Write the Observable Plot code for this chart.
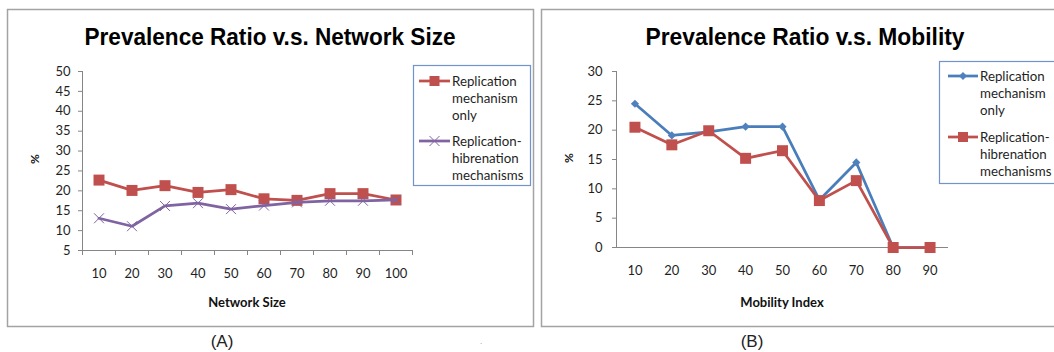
<!DOCTYPE html>
<html><head><meta charset="utf-8">
<script src="https://cdn.jsdelivr.net/npm/d3@7"></script>
<script src="https://cdn.jsdelivr.net/npm/@observablehq/plot@0.6"></script>
<style>
body{margin:0;background:#fff;}
#wrap{position:relative;width:1054px;height:352px;overflow:hidden;background:#fff;}
#wrap svg{position:absolute;left:0;top:0;}
</style></head><body><div id="wrap"></div>
<script>
// ---- data ----
const sizeCategories = [10, 20, 30, 40, 50, 60, 70, 80, 90, 100];
const sizeReplicationOnly = [22.7, 20.1, 21.3, 19.6, 20.3, 18.0, 17.6, 19.3, 19.3, 17.7];
const sizeReplicationHibernation = [13.1, 11.1, 16.2, 16.9, 15.4, 16.3, 17.1, 17.5, 17.5, 17.7];
const sizeYTicks = [5, 10, 15, 20, 25, 30, 35, 40, 45, 50];

const mobilityCategories = [10, 20, 30, 40, 50, 60, 70, 80, 90];
const mobilityReplicationOnly = [24.5, 19.1, 19.7, 20.6, 20.6, 8.1, 14.5, 0, 0];
const mobilityReplicationHibernation = [20.5, 17.5, 19.9, 15.2, 16.5, 8.0, 11.4, 0, 0];
const mobilityYTicks = [0, 5, 10, 15, 20, 25, 30];

const titles = ["Prevalence Ratio v.s. Network Size", "Prevalence Ratio v.s. Mobility"];
const xLabels = ["Network Size", "Mobility Index"];
const yLabel = "%";
const captions = ["(A)", "(B)"];
const legendOnly = ["Replication", "mechanism", "only"];
const legendHib = ["Replication-", "hibrenation", "mechanisms"];

const RED = "#C0504D", PURPLE = "#8064A2", BLUE = "#4A7EBB", BLUEM = "#4F81BD";
const AXIS = "#868686", TXT = "#1f1f1f";

const wrap = document.getElementById("wrap");
const W = 1054, H = 352;

// ---- background layer: panel borders ----
const bg = d3.create("svg").attr("width", W).attr("height", H);
bg.append("rect").attr("x", 7.5).attr("y", 9.5).attr("width", 526).attr("height", 317)
  .attr("fill", "#fff").attr("stroke", "#a3a3a3").attr("stroke-width", 1.5);
bg.append("rect").attr("x", 541.5).attr("y", 9.5).attr("width", 530).attr("height", 317)
  .attr("fill", "#fff").attr("stroke", "#a3a3a3").attr("stroke-width", 1.5);
wrap.appendChild(bg.node());

const style = {background: "transparent", fontFamily: "Lato, 'DejaVu Sans', sans-serif", fontSize: "13px", overflow: "visible"};

// ---- left chart ----
const sizeData = sizeCategories.map((c, i) => ({c, a: sizeReplicationOnly[i], b: sizeReplicationHibernation[i]}));
const sizeBounds = [sizeCategories[0] - 5, ...sizeCategories.map(c => c + 5)];
const left = Plot.plot({
  width: W, height: H,
  marginLeft: 82, marginRight: W - 412, marginTop: 71, marginBottom: H - 250,
  style,
  x: {type: "linear", domain: [sizeBounds[0], sizeBounds[sizeBounds.length - 1]]},
  y: {domain: [sizeYTicks[0], sizeYTicks[sizeYTicks.length - 1]]},
  marks: [
    Plot.axisY({ticks: sizeYTicks, tickSize: 4, tickPadding: 8, label: null, stroke: AXIS, fill: TXT}),
    Plot.axisX({ticks: sizeBounds, tickSize: 5, tickFormat: () => "", label: null, stroke: AXIS}),
    Plot.axisX({ticks: sizeCategories, tickSize: 0, tickPadding: 18, label: null, fill: TXT}),
    Plot.ruleX([sizeBounds[0]], {stroke: AXIS}),
    Plot.ruleY([sizeYTicks[0]], {stroke: AXIS}),
    Plot.lineY(sizeData, {x: "c", y: "a", stroke: RED, strokeWidth: 2.75}),
    Plot.dot(sizeData, {x: "c", y: "a", symbol: "square", r: 6.2, fill: RED}),
    Plot.lineY(sizeData, {x: "c", y: "b", stroke: PURPLE, strokeWidth: 2.75}),
    Plot.dot(sizeData, {x: "c", y: "b", symbol: "times", r: 4.6, stroke: PURPLE, strokeWidth: 1})
  ]
});
wrap.appendChild(left);

// ---- right chart ----
const mobData = mobilityCategories.map((c, i) => ({c, a: mobilityReplicationOnly[i], b: mobilityReplicationHibernation[i]}));
const right = Plot.plot({
  width: W, height: H,
  marginLeft: 616, marginRight: W - 948, marginTop: 71, marginBottom: H - 247,
  style,
  x: {type: "linear", domain: [mobilityCategories[0] - 5, mobilityCategories[mobilityCategories.length - 1] + 5]},
  y: {domain: [mobilityYTicks[0], mobilityYTicks[mobilityYTicks.length - 1]]},
  marks: [
    Plot.axisY({ticks: mobilityYTicks, tickSize: 4, tickPadding: 10, label: null, stroke: AXIS, fill: TXT}),
    Plot.axisX({ticks: mobilityCategories, tickSize: 0, tickPadding: 18, label: null, fill: TXT}),
    Plot.ruleX([mobilityCategories[0] - 5], {stroke: AXIS}),
    Plot.ruleY([mobilityYTicks[0]], {stroke: AXIS}),
    Plot.lineY(mobData, {x: "c", y: "a", stroke: BLUE, strokeWidth: 2.75}),
    Plot.dot(mobData, {x: "c", y: "a", symbol: "diamond2", r: 3.7, fill: BLUEM}),
    Plot.lineY(mobData, {x: "c", y: "b", stroke: RED, strokeWidth: 2.75}),
    Plot.dot(mobData, {x: "c", y: "b", symbol: "square", r: 6.2, fill: RED})
  ]
});
wrap.appendChild(right);

// ---- overlay: titles, axis labels, legends, captions ----
const ov = d3.create("svg").attr("width", W).attr("height", H);
const T = (x, y, s, o = {}) => ov.append("text").attr("x", x).attr("y", y).text(s)
  .attr("text-anchor", o.anchor || "middle")
  .attr("font-family", o.family || "Lato, 'DejaVu Sans', sans-serif")
  .attr("font-size", o.size || 13)
  .attr("font-weight", o.weight || "normal")
  .attr("fill", o.fill || TXT);

const t1 = T(270, 45, titles[0], {family: "'Liberation Sans', Arial, sans-serif", size: 23.5, weight: "bold", fill: "#000"});
t1.attr("textLength", 371).attr("lengthAdjust", "spacingAndGlyphs");
const t2 = T(805, 45, titles[1], {family: "'Liberation Sans', Arial, sans-serif", size: 23.5, weight: "bold", fill: "#000"});
t2.attr("textLength", 319).attr("lengthAdjust", "spacingAndGlyphs");

T(247, 307, xLabels[0], {weight: "bold", size: 13, fill: "#111"});
T(782, 307, xLabels[1], {weight: "bold", size: 13, fill: "#111"});
T(0, 0, yLabel, {weight: "bold", size: 12, fill: "#111"}).attr("transform", "translate(39,159) rotate(-90)");
T(0, 0, yLabel, {weight: "bold", size: 12, fill: "#111"}).attr("transform", "translate(573,158) rotate(-90)");

T(222, 347, captions[0], {family: "'Liberation Sans', Arial, sans-serif", size: 17, fill: "#222"});
T(752, 347, captions[1], {family: "'Liberation Sans', Arial, sans-serif", size: 17, fill: "#222"});
T(481, 344, ".", {family: "'Liberation Sans', Arial, sans-serif", size: 8, fill: "#888"});

function legend(x0, y0, x1, y1, sx0, sx1, tx, rows, series) {
  ov.append("rect").attr("x", x0).attr("y", y0).attr("width", x1 - x0).attr("height", y1 - y0)
    .attr("fill", "#fff").attr("stroke", "#6f95cc").attr("stroke-width", 1.2);
  series.forEach((s, k) => {
    const ys = rows[k];
    const cy = ys[0];
    ov.append("line").attr("x1", sx0).attr("x2", sx1).attr("y1", cy).attr("y2", cy)
      .attr("stroke", s.color).attr("stroke-width", 2.75);
    const cx = (sx0 + sx1) / 2;
    if (s.marker === "square") {
      ov.append("rect").attr("x", cx - 5).attr("y", cy - 5).attr("width", 10).attr("height", 10).attr("fill", s.mcolor);
    } else if (s.marker === "diamond") {
      ov.append("path").attr("d", `M${cx},${cy - 4}L${cx + 4},${cy}L${cx},${cy + 4}L${cx - 4},${cy}Z`).attr("fill", s.mcolor);
    } else {
      ov.append("path").attr("d", `M${cx - 5},${cy - 5}L${cx + 5},${cy + 5}M${cx - 5},${cy + 5}L${cx + 5},${cy - 5}`)
        .attr("stroke", s.mcolor).attr("stroke-width", 1).attr("fill", "none");
    }
    s.lines.forEach((ln, j) => T(tx, ys[j] + 4.5, ln, {anchor: "start", size: 13.3, fill: TXT}));
  });
}
legend(413.5, 65.5, 530.5, 185.5, 419, 450, 452, [[81, 98, 115], [141, 158, 175]],
  [{color: RED, mcolor: RED, marker: "square", lines: legendOnly},
   {color: PURPLE, mcolor: PURPLE, marker: "times", lines: legendHib}]);
legend(939.5, 61.5, 1070, 183.5, 948, 978, 980, [[76, 93, 110], [137, 154, 171]],
  [{color: BLUE, mcolor: BLUEM, marker: "diamond", lines: legendOnly},
   {color: RED, mcolor: RED, marker: "square", lines: legendHib}]);

wrap.appendChild(ov.node());
</script>
</body></html>
